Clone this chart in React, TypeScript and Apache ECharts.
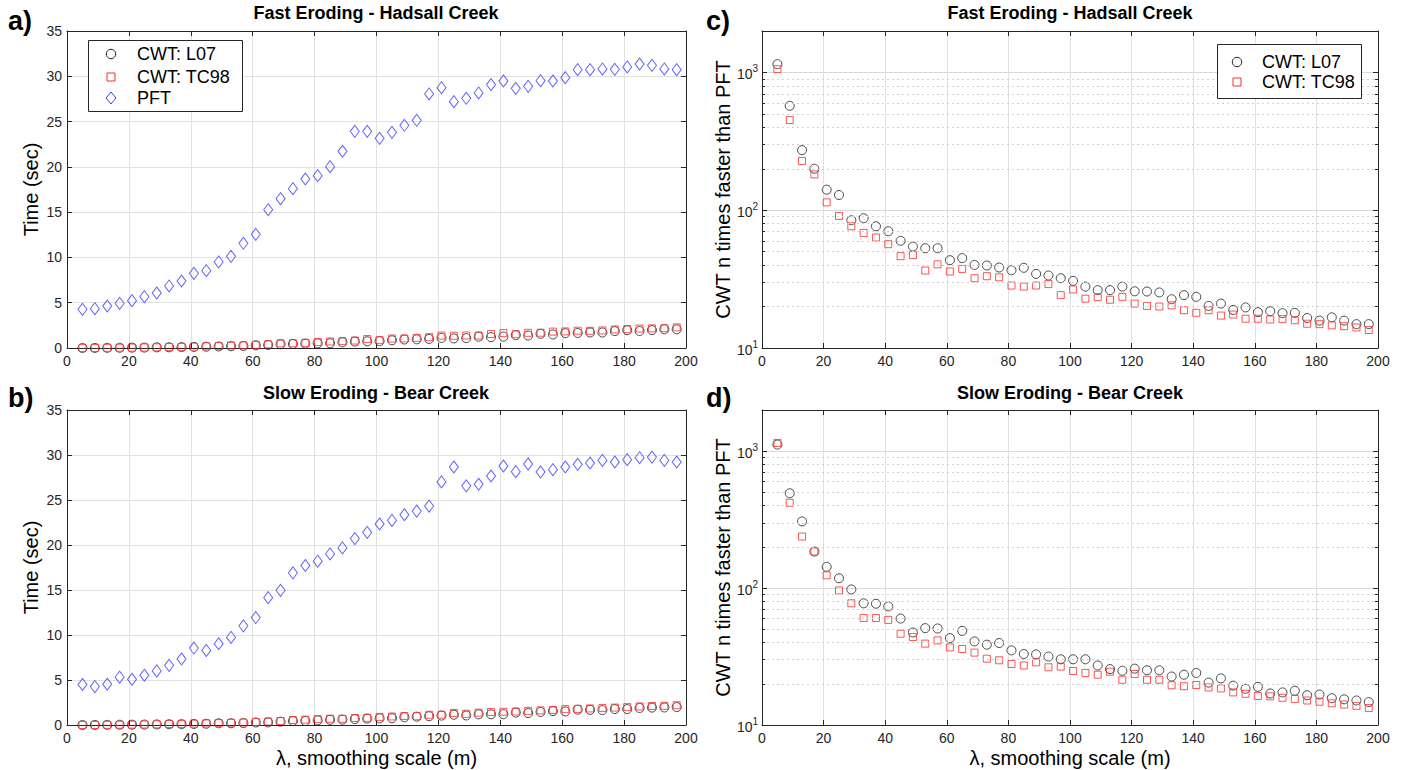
import React, { useEffect, useRef } from 'react';
import * as echarts from 'echarts';

// smoothing scale lambda (m)
const lambda = [5, 9, 13, 17, 21, 25, 29, 33, 37, 41, 45, 49, 53, 57, 61, 65, 69, 73, 77, 81, 85, 89, 93, 97, 101, 105, 109, 113, 117, 121, 125, 129, 133, 137, 141, 145, 149, 153, 157, 161, 165, 169, 173, 177, 181, 185, 189, 193, 197];

// Panel a: Fast Eroding - Hadsall Creek, time (sec)
const pftA = [4.27, 4.34, 4.64, 4.93, 5.23, 5.67, 6.07, 6.85, 7.40, 8.24, 8.54, 9.50, 10.12, 11.56, 12.55, 15.27, 16.49, 17.59, 18.66, 19.03, 20.02, 21.72, 23.92, 23.92, 23.15, 23.81, 24.59, 25.14, 28.05, 28.74, 27.20, 27.57, 28.16, 29.08, 29.48, 28.67, 28.89, 29.52, 29.48, 29.85, 30.73, 30.73, 30.81, 30.77, 31.03, 31.36, 31.21, 30.81, 30.73];
const l07A = [0.004, 0.008, 0.017, 0.025, 0.037, 0.044, 0.072, 0.078, 0.097, 0.117, 0.142, 0.174, 0.191, 0.218, 0.289, 0.340, 0.411, 0.443, 0.486, 0.519, 0.524, 0.630, 0.712, 0.745, 0.754, 0.853, 0.935, 0.956, 1.005, 1.114, 1.058, 1.090, 1.246, 1.202, 1.254, 1.419, 1.376, 1.562, 1.496, 1.640, 1.661, 1.717, 1.712, 1.865, 1.964, 1.878, 1.975, 2.068, 2.062];
const tc98A = [0.004, 0.010, 0.020, 0.027, 0.046, 0.062, 0.079, 0.100, 0.117, 0.145, 0.184, 0.201, 0.277, 0.285, 0.350, 0.407, 0.514, 0.530, 0.572, 0.670, 0.718, 0.765, 0.822, 0.988, 0.870, 1.044, 1.051, 1.122, 1.194, 1.369, 1.347, 1.379, 1.380, 1.547, 1.638, 1.525, 1.680, 1.687, 1.809, 1.831, 1.909, 1.897, 1.938, 2.051, 2.083, 2.148, 2.167, 2.185, 2.276];

// Panel b: Slow Eroding - Bear Creek, time (sec)
const pftB = [4.50, 4.27, 4.53, 5.31, 5.08, 5.53, 6.01, 6.63, 7.33, 8.55, 8.29, 9.03, 9.73, 11.02, 11.94, 14.15, 14.96, 16.91, 17.72, 18.20, 19.01, 19.68, 20.71, 21.41, 22.33, 22.73, 23.36, 23.77, 24.32, 27.01, 28.67, 26.57, 26.75, 27.67, 28.78, 28.15, 29.00, 28.11, 28.37, 28.67, 28.96, 29.11, 29.40, 29.22, 29.48, 29.70, 29.77, 29.40, 29.22];
const l07B = [0.004, 0.009, 0.015, 0.029, 0.036, 0.047, 0.062, 0.086, 0.095, 0.116, 0.138, 0.191, 0.191, 0.217, 0.277, 0.291, 0.367, 0.438, 0.446, 0.519, 0.576, 0.600, 0.655, 0.709, 0.739, 0.753, 0.859, 0.929, 0.977, 1.047, 1.142, 1.059, 1.184, 1.188, 1.199, 1.380, 1.324, 1.449, 1.542, 1.509, 1.704, 1.683, 1.652, 1.771, 1.765, 1.892, 1.933, 1.947, 1.988];
const tc98B = [0.004, 0.010, 0.019, 0.029, 0.041, 0.058, 0.078, 0.110, 0.121, 0.146, 0.179, 0.206, 0.248, 0.266, 0.324, 0.394, 0.443, 0.554, 0.597, 0.652, 0.699, 0.686, 0.784, 0.802, 0.900, 0.947, 1.003, 0.970, 1.136, 1.144, 1.340, 1.242, 1.372, 1.441, 1.468, 1.497, 1.568, 1.625, 1.679, 1.759, 1.788, 1.842, 1.897, 1.935, 1.992, 2.063, 2.111, 2.130, 2.197];

// Panel c: Fast Eroding, CWT n times faster than PFT
const ratioL07C = [1149, 573, 273, 200, 141, 129, 84.6, 87.5, 76.5, 70.4, 60, 54.5, 53, 53, 43.4, 44.9, 40.1, 39.7, 38.4, 36.7, 38.2, 34.5, 33.6, 32.1, 30.7, 27.9, 26.3, 26.3, 27.9, 25.8, 25.7, 25.3, 22.6, 24.2, 23.5, 20.2, 21.0, 18.9, 19.7, 18.2, 18.5, 17.9, 18.0, 16.5, 15.8, 16.7, 15.8, 14.9, 14.9];
const ratioTC98C = [1057, 451, 228, 182, 114, 91, 76.5, 68.5, 63.4, 56.7, 46.4, 47.2, 36.5, 40.5, 35.9, 37.5, 32.1, 33.2, 32.6, 28.4, 27.9, 28.4, 29.1, 24.2, 26.6, 22.8, 23.4, 22.4, 23.5, 21.0, 20.2, 20.0, 20.4, 18.8, 18.0, 18.8, 17.2, 17.5, 16.3, 16.3, 16.1, 16.2, 15.9, 15.0, 14.9, 14.6, 14.4, 14.1, 13.5];

// Panel d: Slow Eroding, CWT n times faster than PFT
const ratioL07D = [1118, 493, 307, 185, 143, 118, 97.8, 77.4, 76.9, 73.6, 59.9, 47.4, 51, 50.7, 43.1, 48.7, 40.8, 38.6, 39.7, 35.1, 33.0, 32.8, 31.6, 30.2, 30.2, 30.2, 27.2, 25.6, 24.9, 25.8, 25.1, 25.1, 22.6, 23.3, 24.0, 20.4, 21.9, 19.4, 18.4, 19.0, 17.0, 17.3, 17.8, 16.5, 16.7, 15.7, 15.4, 15.1, 14.7];
const ratioTC98D = [1149, 420, 238, 185, 124, 96.2, 77.4, 60.5, 60.5, 58.6, 46.4, 43.9, 39.3, 41.5, 36.9, 35.9, 33.8, 30.5, 29.7, 27.9, 27.2, 28.7, 26.4, 26.7, 24.8, 24.0, 23.3, 24.5, 21.4, 23.6, 21.4, 21.4, 19.5, 19.2, 19.6, 18.8, 18.5, 17.3, 16.9, 16.3, 16.2, 15.8, 15.5, 15.1, 14.8, 14.4, 14.1, 13.8, 13.3];

// minor log grid positions
const minorLogTicks = [20, 30, 40, 50, 60, 70, 80, 90, 200, 300, 400, 500, 600, 700, 800, 900];

const titles = ['Fast Eroding - Hadsall Creek', 'Slow Eroding - Bear Creek', 'Fast Eroding - Hadsall Creek', 'Slow Eroding - Bear Creek'];
const panelLetters = ['a)', 'b)', 'c)', 'd)'];
const seriesNames = ['CWT: L07', 'CWT: TC98', 'PFT'];

const FONT = '"Liberation Sans", Arial, Helvetica, sans-serif';
const AXIS_COLOR = '#262626';
const GRID_COLOR = '#e1e1e1';
const C_L07 = '#1e1e1e';
const C_TC98 = '#ff2a2a';
const C_PFT = '#3a3aff';

const grids = [
  { left: 67, top: 31, width: 619, height: 317 },
  { left: 67, top: 410, width: 619, height: 315 },
  { left: 762, top: 31, width: 616, height: 317 },
  { left: 762, top: 410, width: 616, height: 315 },
];

const pair = (ys: number[]) => lambda.map((x, i) => [x, ys[i]]);

const axisLine = { show: true, onZero: false, lineStyle: { color: AXIS_COLOR, width: 1 } };
const axisTick = { show: true, inside: true, length: 5, lineStyle: { color: AXIS_COLOR, width: 1 } };

function xAxes(g: number, showName: boolean) {
  const base = { type: 'value', gridIndex: g, min: 0, max: 200, interval: 20, axisLine, axisTick };
  return [
    {
      ...base,
      position: 'bottom',
      axisLabel: { fontSize: 14, color: AXIS_COLOR, fontFamily: FONT, margin: 6 },
      splitLine: { show: true, lineStyle: { color: GRID_COLOR, width: 1 } },
      name: showName ? 'λ, smoothing scale (m)' : '',
      nameLocation: 'middle',
      nameGap: 23,
      nameTextStyle: { fontSize: 20, color: '#000', fontFamily: FONT },
    },
    { ...base, position: 'top', axisLabel: { show: false }, splitLine: { show: false } },
  ];
}

function yLinear(g: number) {
  const base = { type: 'value', gridIndex: g, min: 0, max: 35, interval: 5, axisLine, axisTick };
  return [
    {
      ...base,
      position: 'left',
      axisLabel: { fontSize: 14, color: AXIS_COLOR, fontFamily: FONT, margin: 5 },
      splitLine: { show: true, lineStyle: { color: GRID_COLOR, width: 1 } },
      name: 'Time (sec)',
      nameLocation: 'middle',
      nameGap: 26,
      nameTextStyle: { fontSize: 20, color: '#000', fontFamily: FONT },
    },
    { ...base, position: 'right', axisLabel: { show: false }, splitLine: { show: false } },
  ];
}

const logFormatter = (v: number) => {
  const e = Math.log10(v);
  const r = Math.round(e);
  if (Math.abs(e - r) > 1e-6) return '';
  return `{b|10}{s|${r}}`;
};

function yLog(g: number) {
  const base = { type: 'log', logBase: 10, gridIndex: g, min: 10, max: 2000, axisLine, axisTick };
  return [
    {
      ...base,
      position: 'left',
      axisLabel: {
        formatter: logFormatter,
        margin: 4,
        rich: {
          b: { fontSize: 14, color: AXIS_COLOR, fontFamily: FONT, verticalAlign: 'bottom' },
          s: { fontSize: 10, color: AXIS_COLOR, fontFamily: FONT, verticalAlign: 'bottom', padding: [0, 0, 8, 0] },
        },
      },
      splitLine: { show: true, lineStyle: { color: '#d9d9d9', width: 1 } },
      name: 'CWT n times faster than PFT',
      nameLocation: 'middle',
      nameGap: 12,
      nameTextStyle: { fontSize: 20, color: '#000', fontFamily: FONT },
    },
    { ...base, position: 'right', axisLabel: { show: false }, splitLine: { show: false } },
  ];
}

const styleL07 = { symbol: 'circle', symbolSize: 9, itemStyle: { color: 'rgba(0,0,0,0)', borderColor: C_L07, borderWidth: 1 } };
const styleTC98 = { symbol: 'rect', symbolSize: 7, itemStyle: { color: 'rgba(0,0,0,0)', borderColor: C_TC98, borderWidth: 1 } };
const stylePFT = { symbol: 'diamond', symbolSize: [9, 12], itemStyle: { color: 'rgba(0,0,0,0)', borderColor: C_PFT, borderWidth: 1 } };

function scatter(name: string, style: any, g: number, ys: number[], extra: any = {}) {
  return {
    type: 'scatter',
    name,
    xAxisIndex: 2 * g,
    yAxisIndex: 2 * g,
    data: pair(ys),
    ...style,
    emphasis: { disabled: true },
    ...extra,
  };
}

const minorGridLine = {
  markLine: {
    silent: true,
    symbol: ['none', 'none'],
    label: { show: false },
    emphasis: { disabled: true },
    lineStyle: { color: '#d2d2d2', type: [2, 3], width: 1 },
    data: minorLogTicks.map((v) => ({ yAxis: v })),
  },
};

const minorTickMarks = {
  markLine: {
    silent: true,
    symbol: ['none', 'none'],
    label: { show: false },
    emphasis: { disabled: true },
    lineStyle: { color: AXIS_COLOR, type: 'solid', width: 1 },
    data: minorLogTicks.flatMap((v) => [
      [{ coord: [0, v] }, { coord: [1, v] }],
      [{ coord: [199, v] }, { coord: [200, v] }],
    ]),
  },
};

const LEGEND_Z = 200;

// legend drawn with graphic elements, placed above grid lines
function legendGraphic(box: { x: number; y: number; w: number; h: number }, iconX: number, textX: number, rows: number[], names: string[]) {
  const els: any[] = [
    {
      type: 'rect',
      z: LEGEND_Z,
      shape: { x: box.x + 0.5, y: box.y + 0.5, width: box.w, height: box.h },
      style: { fill: '#fff', stroke: AXIS_COLOR, lineWidth: 1 },
    },
  ];
  names.forEach((name, i) => {
    const cy = rows[i];
    if (name === seriesNames[0]) {
      els.push({ type: 'circle', z: LEGEND_Z + 1, shape: { cx: iconX, cy, r: 4.7 }, style: { fill: 'none', stroke: C_L07, lineWidth: 1 } });
    } else if (name === seriesNames[1]) {
      els.push({ type: 'rect', z: LEGEND_Z + 1, shape: { x: iconX - 4, y: cy - 4, width: 8, height: 8 }, style: { fill: 'none', stroke: C_TC98, lineWidth: 1 } });
    } else {
      els.push({
        type: 'polygon',
        z: LEGEND_Z + 1,
        shape: { points: [[iconX - 5, cy], [iconX, cy - 6], [iconX + 5, cy], [iconX, cy + 6]] },
        style: { fill: 'none', stroke: C_PFT, lineWidth: 1 },
      });
    }
    els.push({
      type: 'text',
      z: LEGEND_Z + 1,
      x: textX,
      y: cy,
      style: { text: name, font: `18px ${FONT}`, fill: '#000', align: 'left', verticalAlign: 'middle' },
    });
  });
  return els;
}

export default function App() {
  const ref = useRef<HTMLDivElement>(null);
  useEffect(() => {
    if (!ref.current) return;
    const chart = echarts.init(ref.current, undefined, { renderer: 'svg' });
    const titleX = [376, 376, 1070, 1070];
    const titleY = [13, 393, 13, 393];
    const letterX = [8, 8, 706, 706];
    const letterY = [21, 398, 21, 398];
    const graphic: any[] = [];
    for (let i = 0; i < 4; i++) {
      graphic.push({
        type: 'text',
        x: titleX[i],
        y: titleY[i],
        style: { text: titles[i], font: `bold 18px ${FONT}`, fill: '#000', align: 'center', verticalAlign: 'middle' },
      });
      graphic.push({
        type: 'text',
        x: letterX[i],
        y: letterY[i],
        style: { text: panelLetters[i], font: `bold 27px ${FONT}`, fill: '#000', align: 'left', verticalAlign: 'middle' },
      });
    }
    graphic.push(...legendGraphic({ x: 88, y: 40, w: 154, h: 71 }, 111, 137, [54, 77, 98], seriesNames));
    graphic.push(...legendGraphic({ x: 1217, y: 44, w: 144, h: 54 }, 1237, 1262, [62, 82], seriesNames.slice(0, 2)));

    const option: any = {
      animation: false,
      backgroundColor: '#fff',
      grid: grids,
      xAxis: [...xAxes(0, false), ...xAxes(1, true), ...xAxes(2, false), ...xAxes(3, true)],
      yAxis: [...yLinear(0), ...yLinear(1), ...yLog(2), ...yLog(3)],
      graphic: { elements: graphic },
      series: [
        scatter(seriesNames[0], styleL07, 0, l07A),
        scatter(seriesNames[1], styleTC98, 0, tc98A),
        scatter(seriesNames[2], stylePFT, 0, pftA),
        scatter(seriesNames[0], styleL07, 1, l07B),
        scatter(seriesNames[1], styleTC98, 1, tc98B),
        scatter(seriesNames[2], stylePFT, 1, pftB),
        scatter(seriesNames[0], styleL07, 2, ratioL07C, minorGridLine),
        scatter(seriesNames[1], styleTC98, 2, ratioTC98C, minorTickMarks),
        scatter(seriesNames[0], styleL07, 3, ratioL07D, minorGridLine),
        scatter(seriesNames[1], styleTC98, 3, ratioTC98D, minorTickMarks),
      ],
    };
    chart.setOption(option);
    return () => chart.dispose();
  }, []);
  return (
    <div
      ref={ref}
      style={{ position: 'fixed', left: 0, top: 0, width: 1406, height: 770, background: '#fff' }}
    />
  );
}
